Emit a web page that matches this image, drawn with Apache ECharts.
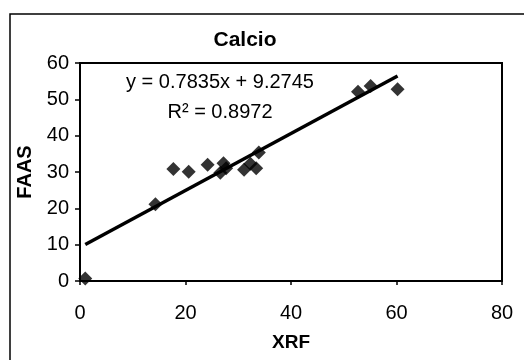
<!DOCTYPE html>
<html>
<head>
<meta charset="utf-8">
<script src="https://cdn.jsdelivr.net/npm/echarts@6/dist/echarts.min.js"></script>
<style>
  html, body { margin: 0; padding: 0; background: #fff; }
  #chart { width: 524px; height: 360px; }
</style>
</head>
<body>
<div id="chart"></div>
<script>
// measured points (XRF vs FAAS)
const xrf  = [1.0, 14.3, 17.7, 20.6, 24.2, 26.6, 27.2, 27.7, 31.1, 32.3, 33.4, 33.9, 52.7, 55.1, 60.2];
const faas = [0.7, 21.1, 30.8, 30.1, 32.0, 29.8, 32.4, 31.0, 30.6, 32.3, 31.0, 35.4, 52.1, 53.7, 52.8];

// Excel linear trendline
const slope = 0.7835;
const intercept = 9.2745;
const r2 = 0.8972;

const xTicks = [0, 20, 40, 60, 80];
const yTicks = [0, 10, 20, 30, 40, 50, 60];

const points = xrf.map((x, i) => [x, faas[i]]);
const xMin = Math.min(...xrf), xMax = Math.max(...xrf);
const trend = [[xMin, slope * xMin + intercept], [xMax, slope * xMax + intercept]];

const font = "'Liberation Sans', Arial, sans-serif";

const chart = echarts.init(document.getElementById("chart"));
chart.setOption({
  animation: false,
  backgroundColor: "#fff",
  title: {
    text: "Calcio",
    left: 240,
    top: 25,
    textAlign: "center",
    textStyle: { fontFamily: font, fontSize: 21, fontWeight: "bold", color: "#000" }
  },
  grid: {
    left: 80, top: 63, right: 22, bottom: 79,
    show: true, borderColor: "#000", borderWidth: 2, backgroundColor: "#fff"
  },
  xAxis: {
    type: "value",
    min: xTicks[0], max: xTicks[xTicks.length - 1], interval: 20,
    name: "XRF",
    nameLocation: "middle",
    nameGap: 52,
    nameTextStyle: { fontFamily: font, fontSize: 19, fontWeight: "bold", color: "#000" },
    axisLine: { lineStyle: { color: "#000", width: 2 } },
    axisTick: { show: true, length: 4, lineStyle: { color: "#000", width: 1.5 } },
    axisLabel: { fontFamily: font, fontSize: 20, color: "#000", margin: 22 },
    splitLine: { show: false }
  },
  yAxis: {
    type: "value",
    min: yTicks[0], max: yTicks[yTicks.length - 1], interval: 10,
    name: "FAAS",
    nameLocation: "middle",
    nameGap: 39,
    nameTextStyle: { fontFamily: font, fontSize: 20, fontWeight: "bold", color: "#000" },
    axisLine: { lineStyle: { color: "#000", width: 2 } },
    axisTick: { show: true, length: 5, lineStyle: { color: "#000", width: 1.5 } },
    axisLabel: { fontFamily: font, fontSize: 20, color: "#000", margin: 11 },
    splitLine: { show: false }
  },
  graphic: [
    {
      type: "rect", silent: true, z: -10,
      shape: { x: 10, y: 14, width: 600, height: 600 },
      style: { fill: "none", stroke: "#000", lineWidth: 1.5 }
    },
    {
      type: "text", silent: true,
      style: {
        x: 220, y: 82, text: "y = " + slope + "x + " + intercept,
        font: "20px " + font, fill: "#000", textAlign: "center", textVerticalAlign: "middle"
      }
    },
    {
      type: "text", silent: true,
      style: {
        x: 220, y: 112, text: "R² = " + r2,
        font: "20px " + font, fill: "#000", textAlign: "center", textVerticalAlign: "middle"
      }
    }
  ],
  series: [
    {
      name: "Calcio",
      type: "scatter",
      data: points,
      symbol: "diamond",
      symbolSize: 14,
      itemStyle: { color: "#000" },
      z: 3
    },
    {
      name: "Trend",
      type: "line",
      data: trend,
      showSymbol: false,
      symbol: "none",
      lineStyle: { color: "#000", width: 3.5 },
      z: 2
    }
  ]
});
</script>
</body>
</html>
